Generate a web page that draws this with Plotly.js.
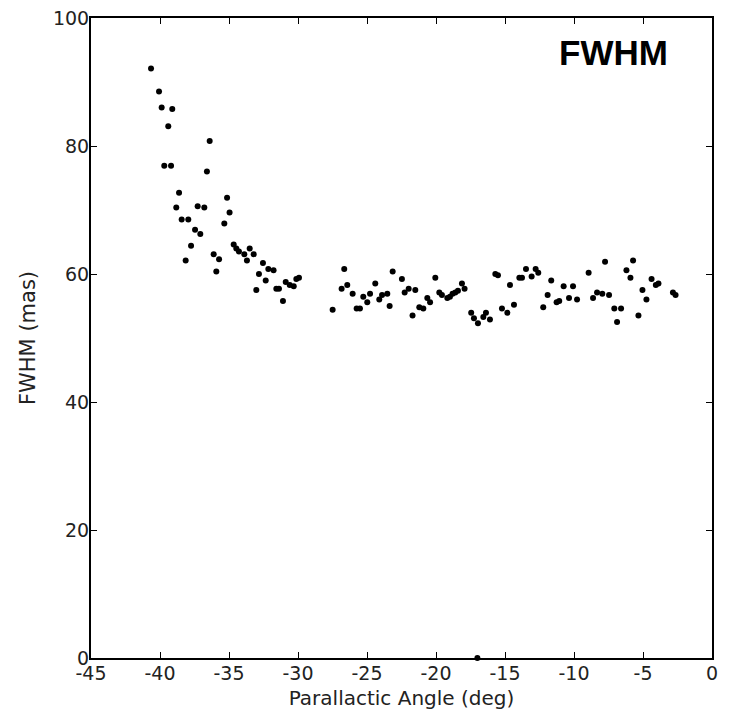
<!DOCTYPE html>
<html>
<head>
<meta charset="utf-8">
<script src="https://cdn.plot.ly/plotly-3.0.1.min.js"></script>
<style>html,body{margin:0;padding:0;background:#fff;}#chart{width:731px;height:714px;}</style>
</head>
<body>
<div id="chart"></div>
<script>
// Parallactic angle (deg)
const angle = [
  -40.65,-40.07,-39.88,-39.11,-39.40,-36.40,-39.69,-39.20,-36.60,-38.62,
  -35.14,-38.82,-37.27,-36.79,-34.96,-38.43,-37.95,-35.34,-37.46,-37.08,
  -37.75,-34.66,-34.47,-34.28,-33.89,-33.50,-33.21,-33.70,-36.11,-35.72,
  -38.14,-35.92,-32.54,-32.15,-31.77,-32.83,-32.34,-30.89,-30.60,-30.31,
  -30.12,-29.93,-33.02,-31.57,-31.38,-31.09,
  -27.49,-26.65,-26.84,-26.43,-26.04,-25.75,-25.51,-25.27,-24.98,-24.78,
  -24.40,-24.11,-23.91,-23.53,-23.36,-23.14,-22.47,-22.27,-21.98,-21.50,
  -21.70,-21.21,-20.92,-20.63,-20.43,-20.05,-19.76,-19.57,-19.18,-18.99,
  -18.80,-18.60,-18.41,-18.12,-17.93,-17.45,-17.25,-16.96,-16.57,-16.38,
  -16.09,-15.70,-15.51,-15.22,-14.83,-14.64,-14.35,
  -13.48,-13.96,-13.77,-13.07,-12.78,-12.59,-12.23,-11.91,-11.65,-11.26,
  -11.07,-10.75,-10.36,-10.07,-9.78,-8.94,-8.62,-8.33,-7.95,-7.75,
  -7.46,-7.08,-6.88,-6.59,-6.20,-5.91,-5.72,-5.33,-5.04,-4.75,
  -4.38,-4.07,-3.88,-2.83,-2.64,
  -17.00
];
// FWHM (mas)
const fwhm = [
  92.1,88.5,86.0,85.8,83.1,80.8,76.9,76.9,76.0,72.7,
  71.9,70.4,70.6,70.4,69.6,68.5,68.5,67.9,66.9,66.25,
  64.4,64.6,64.0,63.5,63.1,64.0,63.1,62.1,63.1,62.3,
  62.1,60.4,61.7,60.8,60.6,60.0,59.0,58.75,58.3,58.1,
  59.2,59.4,57.5,57.7,57.7,55.8,
  54.4,60.8,57.7,58.3,56.9,54.6,54.6,56.45,55.6,56.9,
  58.5,56.0,56.7,56.9,55.0,60.4,59.2,57.1,57.7,57.5,
  53.5,54.8,54.6,56.25,55.6,59.4,57.1,56.7,56.25,56.45,
  56.9,57.1,57.4,58.5,57.7,53.95,53.1,52.3,53.3,53.95,
  52.9,60.0,59.8,54.6,53.95,58.3,55.2,
  60.8,59.4,59.4,59.6,60.8,60.2,54.8,56.7,59.0,55.6,
  55.8,58.1,56.25,58.1,56.0,60.2,56.25,57.1,56.9,61.9,
  56.7,54.6,52.5,54.6,60.6,59.4,62.1,53.5,57.5,56.0,
  59.2,58.3,58.5,57.1,56.7,
  0.0
];
const xTicks = [-45,-40,-35,-30,-25,-20,-15,-10,-5,0];
const yTicks = [0,20,40,60,80,100];

const tickFont = {family:'DejaVu Sans', size:19, color:'#222'};
const titleFont = {family:'DejaVu Sans', size:20, color:'#222'};
const axisCommon = {
  showgrid:false, zeroline:false, showline:true, linecolor:'#000', linewidth:2,
  mirror:'allticks', ticks:'inside', ticklen:6, tickwidth:1, tickcolor:'#000',
  tickfont:tickFont, tickmode:'array'
};

const data = [{
  x: angle, y: fwhm, type:'scatter', mode:'markers',
  marker:{color:'#000', size:6}, cliponaxis:false, hoverinfo:'x+y'
}];

const layout = {
  width:731, height:714,
  margin:{l:91, r:19, t:18, b:56},
  paper_bgcolor:'#fff', plot_bgcolor:'#fff',
  showlegend:false,
  xaxis: Object.assign({}, axisCommon, {
    range:[-45,0], tickvals:xTicks, ticktext:xTicks.map(String),
    ticklabelstandoff:-3,
    title:{text:'Parallactic Angle (deg)', font:titleFont, standoff:8}
  }),
  yaxis: Object.assign({}, axisCommon, {
    range:[0,100], tickvals:yTicks, ticktext:yTicks.map(String),
    ticklabelstandoff:-4,
    title:{text:'FWHM (mas)', font:Object.assign({}, titleFont, {size:21}), standoff:12}
  }),
  annotations:[{
    text:'<b>FWHM</b>', xref:'paper', yref:'paper', x:0.932, y:0.946,
    xanchor:'right', yanchor:'middle', showarrow:false,
    font:{family:'Liberation Sans', size:35, color:'#000'}
  }]
};

Plotly.newPlot('chart', data, layout, {displayModeBar:false, staticPlot:true});
</script>
</body>
</html>
